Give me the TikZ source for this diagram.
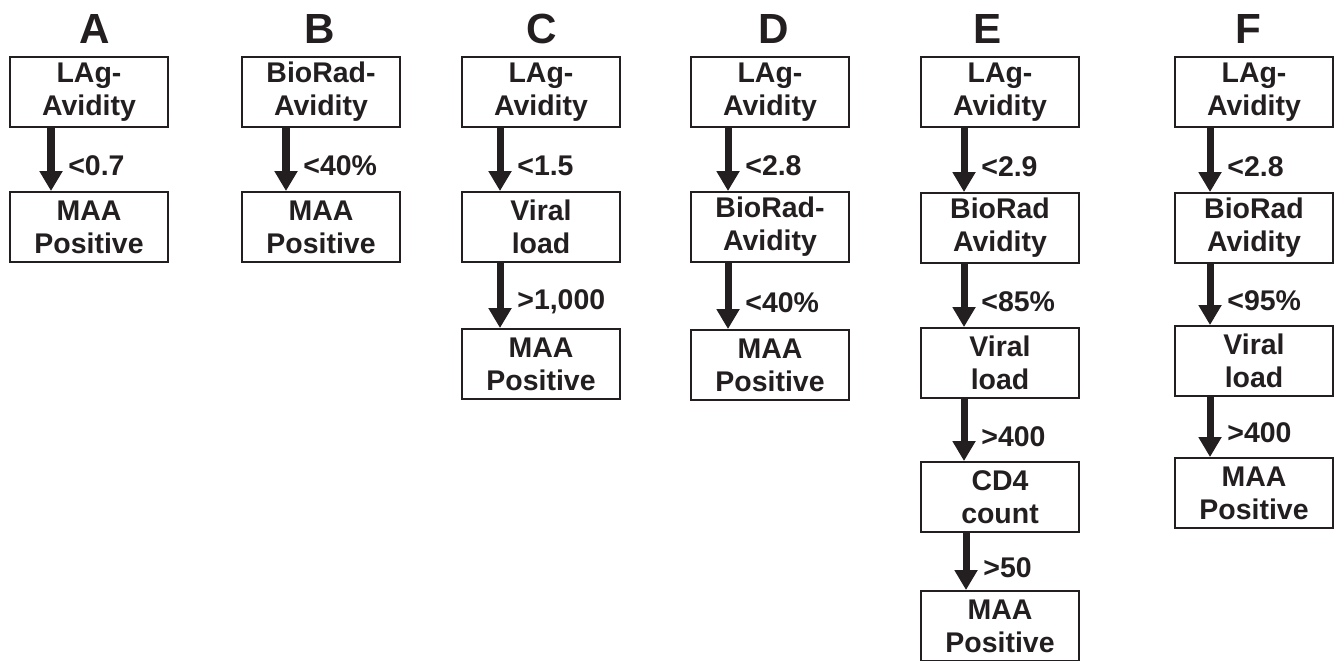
\documentclass[tikz,border=0pt]{standalone}
\usepackage{fontspec}
\setmainfont{Liberation Sans}
\usepackage{tikz}
\usetikzlibrary{arrows.meta}
\definecolor{ink}{RGB}{35,31,32}
\tikzset{
  box/.style={draw=ink, line width=1.1pt, minimum width=3.16cm, minimum height=1.4cm,
    inner sep=0pt, align=center, text=ink, font=\fontsize{16.2}{18.8}\selectfont\bfseries},
  panel/.style={text=ink, font=\fontsize{24}{28}\selectfont\bfseries},
  flow/.style={draw=ink, line width=4pt, -{Triangle[width=0.44cm,length=0.40cm]}},
  cut/.style={right, xshift=0.16cm, text=ink, font=\fontsize{16.2}{18.8}\selectfont\bfseries},
}
\begin{document}
\begin{tikzpicture}[x=0.02cm, y=-0.02cm]
        \useasboundingbox (0,0) rectangle (1335,660);

        % panel letters
        \node[panel] (tA) at (95,29) {A};
        \node[panel] (tB) at (320,29) {B};
        \node[panel] (tC) at (542,29) {C};
        \node[panel] (tD) at (774,29) {D};
        \node[panel] (tE) at (988,29) {E};
        \node[panel] (tF) at (1248,29) {F};

        % A
        \node[box] (A1) at (89,92) {LAg-\\Avidity};
        \node[box] (A2) at (89,227) {MAA\\Positive};
        \draw[flow] ([xshift=-0.76cm]A1.south) -- ([xshift=-0.76cm]A2.north) node[cut, pos=0.6] {<0.7};

        % B
        \node[box] (B1) at (321,92) {BioRad-\\Avidity};
        \node[box] (B2) at (321,227) {MAA\\Positive};
        \draw[flow] ([xshift=-0.70cm]B1.south) -- ([xshift=-0.70cm]B2.north) node[cut, pos=0.6] {<40\%};

        % C
        \node[box] (C1) at (541,92) {LAg-\\Avidity};
        \node[box] (C2) at (541,227) {Viral\\load};
        \node[box] (C3) at (541,364) {MAA\\Positive};
        \draw[flow] ([xshift=-0.82cm]C1.south) -- ([xshift=-0.82cm]C2.north) node[cut, pos=0.6] {<1.5};
        \draw[flow] ([xshift=-0.82cm]C2.south) -- ([xshift=-0.82cm]C3.north) node[cut, pos=0.6] {>1,000};

        % D
        \node[box] (D1) at (770,92) {LAg-\\Avidity};
        \node[box] (D2) at (770,227) {BioRad-\\Avidity};
        \node[box] (D3) at (770,365) {MAA\\Positive};
        \draw[flow] ([xshift=-0.84cm]D1.south) -- ([xshift=-0.84cm]D2.north) node[cut, pos=0.6] {<2.8};
        \draw[flow] ([xshift=-0.84cm]D2.south) -- ([xshift=-0.84cm]D3.north) node[cut, pos=0.6] {<40\%};

        % E
        \node[box] (E1) at (1000,92) {LAg-\\Avidity};
        \node[box] (E2) at (1000,228) {BioRad\\Avidity};
        \node[box] (E3) at (1000,363) {Viral\\load};
        \node[box] (E4) at (1000,497) {CD4\\count};
        \node[box] (E5) at (1000,626) {MAA\\Positive};
        \draw[flow] ([xshift=-0.72cm]E1.south) -- ([xshift=-0.72cm]E2.north) node[cut, pos=0.6] {<2.9};
        \draw[flow] ([xshift=-0.72cm]E2.south) -- ([xshift=-0.72cm]E3.north) node[cut, pos=0.6] {<85\%};
        \draw[flow] ([xshift=-0.72cm]E3.south) -- ([xshift=-0.72cm]E4.north) node[cut, pos=0.6] {>400};
        \draw[flow] ([xshift=-0.68cm]E4.south) -- ([xshift=-0.68cm]E5.north) node[cut, pos=0.6] {>50};

        % F
        \node[box] (F1) at (1254,92) {LAg-\\Avidity};
        \node[box] (F2) at (1254,228) {BioRad\\Avidity};
        \node[box] (F3) at (1254,361) {Viral\\load};
        \node[box] (F4) at (1254,493) {MAA\\Positive};
        \draw[flow] ([xshift=-0.88cm]F1.south) -- ([xshift=-0.88cm]F2.north) node[cut, pos=0.6] {<2.8};
        \draw[flow] ([xshift=-0.88cm]F2.south) -- ([xshift=-0.88cm]F3.north) node[cut, pos=0.6] {<95\%};
        \draw[flow] ([xshift=-0.88cm]F3.south) -- ([xshift=-0.88cm]F4.north) node[cut, pos=0.6] {>400};
\end{tikzpicture}
\end{document}
